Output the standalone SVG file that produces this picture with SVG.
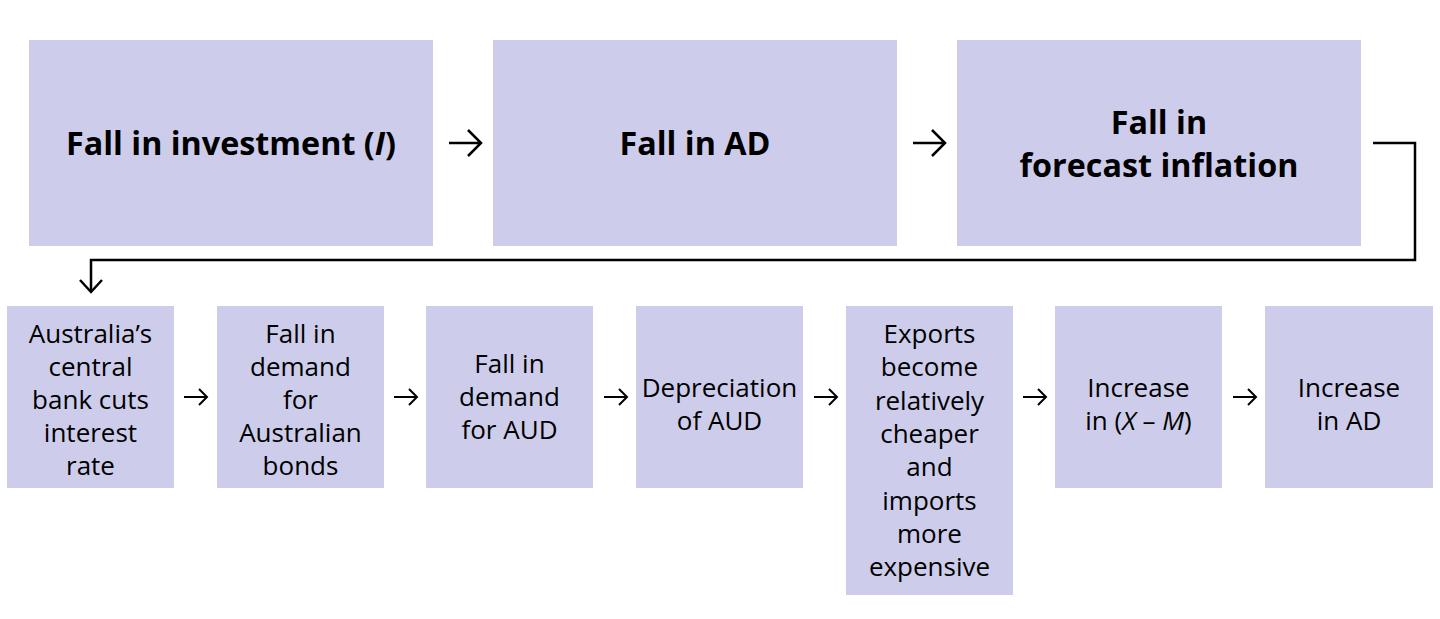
<svg xmlns="http://www.w3.org/2000/svg" width="1440" height="619" viewBox="0 0 1440 619">
<style>
.box{fill:#cdcdeb;}
.big{font-family:"Open Sans","Noto Sans",sans-serif;font-weight:700;font-size:32.3px;fill:#000;text-anchor:middle;}
.sm{font-family:"Open Sans","Noto Sans",sans-serif;font-size:26px;fill:#000;text-anchor:middle;}
.arr{fill:none;stroke:#000;stroke-width:2.5;}
.arrs{fill:none;stroke:#000;stroke-width:2;}
.it{font-style:italic;}
</style>
<rect width="1440" height="619" fill="#fff"/>
<g id="n1"><rect class="box" x="29" y="40" width="404" height="206"/><text class="big" x="231" y="155">Fall in investment (<tspan class="it">I</tspan>)</text></g>
<g id="n2"><rect class="box" x="493" y="40" width="404" height="206"/><text class="big" x="695" y="155">Fall in AD</text></g>
<g id="n3"><rect class="box" x="957" y="40" width="404" height="206"/><text class="big" x="1159" y="134">Fall in</text><text class="big" x="1159" y="177">forecast inflation</text></g>
<g id="b1"><rect class="box" x="7" y="306" width="167" height="182"/><text class="sm" x="90.5" y="343">Australia’s</text><text class="sm" x="90.5" y="376">central</text><text class="sm" x="90.5" y="409">bank cuts</text><text class="sm" x="90.5" y="442">interest</text><text class="sm" x="90.5" y="475">rate</text></g>
<g id="b2"><rect class="box" x="217" y="306" width="167" height="182"/><text class="sm" x="300.5" y="343">Fall in</text><text class="sm" x="300.5" y="376">demand</text><text class="sm" x="300.5" y="409">for</text><text class="sm" x="300.5" y="442">Australian</text><text class="sm" x="300.5" y="475">bonds</text></g>
<g id="b3"><rect class="box" x="426" y="306" width="167" height="182"/><text class="sm" x="509.5" y="373">Fall in</text><text class="sm" x="509.5" y="406">demand</text><text class="sm" x="509.5" y="439">for AUD</text></g>
<g id="b4"><rect class="box" x="636" y="306" width="167" height="182"/><text class="sm" x="719.5" y="397">Depreciation</text><text class="sm" x="719.5" y="430">of AUD</text></g>
<g id="b5"><rect class="box" x="846" y="306" width="167" height="289"/><text class="sm" x="929.5" y="343">Exports</text><text class="sm" x="929.5" y="376">become</text><text class="sm" x="929.5" y="409.5">relatively</text><text class="sm" x="929.5" y="443">cheaper</text><text class="sm" x="929.5" y="476">and</text><text class="sm" x="929.5" y="509.5">imports</text><text class="sm" x="929.5" y="543">more</text><text class="sm" x="929.5" y="576">expensive</text></g>
<g id="b6"><rect class="box" x="1055" y="306" width="167" height="182"/><text class="sm" x="1138.5" y="397">Increase</text><text class="sm" x="1138.5" y="430">in (<tspan class="it">X</tspan> – <tspan class="it">M</tspan>)</text></g>
<g id="b7"><rect class="box" x="1265" y="306" width="168" height="182"/><text class="sm" x="1349" y="397">Increase</text><text class="sm" x="1349" y="430">in AD</text></g>
<g id="connectors">
<path class="arr" d="M449 143H481M468 130L481 143L468 156"/>
<path class="arr" d="M913 143H945M932 130L945 143L932 156"/>
<path class="arr" stroke-width="3.2" d="M1373 143H1415V260H91V292"/>
<path class="arr" d="M80 280L91 292L102 280"/>
<path class="arrs" d="M184 397H207M199 389L207 397L199 405"/>
<path class="arrs" d="M394 397H417M409 389L417 397L409 405"/>
<path class="arrs" d="M604 397H627M619 389L627 397L619 405"/>
<path class="arrs" d="M814 397H837M829 389L837 397L829 405"/>
<path class="arrs" d="M1023 397H1046M1038 389L1046 397L1038 405"/>
<path class="arrs" d="M1233 397H1256M1248 389L1256 397L1248 405"/>
</g>
</svg>
